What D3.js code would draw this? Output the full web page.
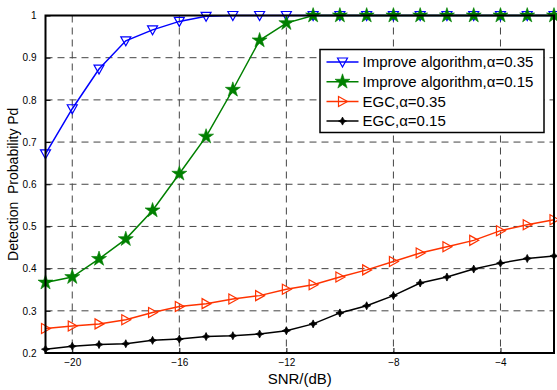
<!DOCTYPE html>
<html>
<head>
<meta charset="utf-8">
<script src="https://cdn.jsdelivr.net/npm/d3@7"></script>
<style>
  body { margin: 0; background: #fff; }
  text { font-family: "Liberation Sans", Arial, sans-serif; }
</style>
</head>
<body>
<script>
// SNR values (dB) and detection probabilities
var snr = [-21, -20, -19, -18, -17, -16, -15, -14, -13, -12,
           -11, -10, -9, -8, -7, -6, -5, -4, -3, -2];

var improve35 = [0.672, 0.779, 0.873, 0.940, 0.966, 0.986, 0.998, 1, 1, 1,
                 1, 1, 1, 1, 1, 1, 1, 1, 1, 1];
var improve15 = [0.367, 0.380, 0.423, 0.470, 0.538, 0.625, 0.713, 0.824,
                 0.941, 0.982, 1, 1, 1, 1, 1, 1, 1, 1, 1, 1];
var egc35 = [0.258, 0.264, 0.269, 0.279, 0.296, 0.310, 0.317, 0.328, 0.336,
             0.351, 0.362, 0.380, 0.397, 0.417, 0.437, 0.452, 0.467, 0.490,
             0.504, 0.516];
var egc15 = [0.209, 0.216, 0.220, 0.222, 0.230, 0.233, 0.239, 0.241, 0.245,
             0.253, 0.269, 0.295, 0.312, 0.336, 0.366, 0.380, 0.399, 0.413,
             0.424, 0.430];

var xTicks = [-20, -16, -12, -8, -4];
var yTicks = [0.2, 0.3, 0.4, 0.5, 0.6, 0.7, 0.8, 0.9, 1];

var seriesNames = ["Improve algorithm,\u03b1=0.35",
                   "Improve algorithm,\u03b1=0.15",
                   "EGC,\u03b1=0.35",
                   "EGC,\u03b1=0.15"];
var seriesColors = ["#0000ff", "#008000", "#ff3300", "#000000"];
var seriesMarkers = ["down", "star", "right", "dot"];
var seriesValues = [improve35, improve15, egc35, egc15];

//Define Margin
var margin = {left: 45.5, right: 3, top: 15.5, bottom: 37},
    width = 557 - margin.left - margin.right,
    height = 390 - margin.top - margin.bottom;

var svg = d3.select("body")
    .append("svg")
    .attr("width", 557)
    .attr("height", 390);

var g = svg.append("g")
    .attr("transform", "translate(" + margin.left + "," + margin.top + ")");

var x = d3.scaleLinear().domain([-21, -2]).range([0, width]);
var y = d3.scaleLinear().domain([0.2, 1]).range([height, 0]);

//Dashed grid
g.selectAll(".vgrid")
    .data(xTicks)
    .enter().append("line")
    .attr("x1", function(d) { return x(d); })
    .attr("x2", function(d) { return x(d); })
    .attr("y1", 0)
    .attr("y2", height)
    .attr("stroke", "#444")
    .attr("stroke-width", 1)
    .attr("stroke-dasharray", "7,5");

g.selectAll(".hgrid")
    .data(yTicks.slice(1, -1))
    .enter().append("line")
    .attr("x1", 0)
    .attr("x2", width)
    .attr("y1", function(d) { return y(d); })
    .attr("y2", function(d) { return y(d); })
    .attr("stroke", "#444")
    .attr("stroke-width", 1)
    .attr("stroke-dasharray", "7,5");

//Axes with inward ticks
var xAxis = d3.axisBottom(x).tickValues(xTicks).tickSize(-5).tickPadding(6);
var yAxis = d3.axisLeft(y).tickValues(yTicks).tickSize(-5).tickPadding(9)
    .tickFormat(function(d) { return d === 1 ? "1" : d3.format(".1f")(d); });

g.append("g")
    .attr("transform", "translate(0," + height + ")")
    .call(xAxis)
    .call(function(a) {
        a.select(".domain").remove();
        a.selectAll("text").style("font-size", "10px").attr("fill", "#000");
    });

g.append("g")
    .call(yAxis)
    .call(function(a) {
        a.select(".domain").remove();
        a.selectAll("text").style("font-size", "10px").attr("fill", "#000");
    });

//Lines and markers
var line = d3.line()
    .x(function(d, i) { return x(snr[i]); })
    .y(function(d) { return y(d); });

function drawMarker(sel, kind, color) {
    if (kind === "down") {
        sel.append("path")
            .attr("d", "M-5,-4L5,-4L0,5Z")
            .attr("fill", "none").attr("stroke", color).attr("stroke-width", 1.2);
    } else if (kind === "right") {
        sel.append("path")
            .attr("d", "M-4,-5L5,0L-4,5Z")
            .attr("fill", "none").attr("stroke", color).attr("stroke-width", 1.2);
    } else if (kind === "star") {
        sel.append("path")
            .attr("d", d3.symbol().type(d3.symbolStar).size(70)())
            .attr("fill", color).attr("stroke", color).attr("stroke-width", 0.6);
    } else {
        sel.append("path")
            .attr("d", "M0,-4L1.3,-1.3L4,0L1.3,1.3L0,4L-1.3,1.3L-4,0L-1.3,-1.3Z")
            .attr("fill", color).attr("stroke", color).attr("stroke-width", 0.8);
    }
}

seriesValues.forEach(function(vals, k) {
    g.append("path")
        .datum(vals)
        .attr("d", line)
        .attr("fill", "none")
        .attr("stroke", seriesColors[k])
        .attr("stroke-width", 1.5);
    g.selectAll(".m" + k)
        .data(vals)
        .enter().append("g")
        .attr("transform", function(d, i) {
            return "translate(" + x(snr[i]) + "," + y(d) + ")";
        })
        .each(function() {
            drawMarker(d3.select(this), seriesMarkers[k], seriesColors[k]);
        });
});

//Plot box
g.append("rect")
    .attr("width", width)
    .attr("height", height)
    .attr("fill", "none")
    .attr("stroke", "#000")
    .attr("stroke-width", 2);

//Legend
var lg = svg.append("g").attr("transform", "translate(320,49.5)");
lg.append("rect")
    .attr("width", 224)
    .attr("height", 83)
    .attr("fill", "#fff")
    .attr("stroke", "#000")
    .attr("stroke-width", 1.5);

seriesNames.forEach(function(name, k) {
    var row = lg.append("g")
        .attr("transform", "translate(0," + (12.5 + k * 19.7) + ")");
    row.append("line")
        .attr("x1", 6.5).attr("x2", 38.5)
        .attr("stroke", seriesColors[k]).attr("stroke-width", 1.5);
    var mk = row.append("g").attr("transform", "translate(22.5,0)");
    drawMarker(mk, seriesMarkers[k], seriesColors[k]);
    row.append("text")
        .attr("x", 42.5)
        .attr("dy", "0.35em")
        .style("font-size", "15px")
        .text(name);
});

//Axis titles
svg.append("text")
    .attr("x", margin.left + width / 2)
    .attr("y", 384)
    .attr("text-anchor", "middle")
    .style("font-size", "15px")
    .text("SNR/(dB)");

svg.append("text")
    .attr("transform", "translate(18," + (margin.top + height / 2) + ") rotate(-90)")
    .attr("text-anchor", "middle")
    .style("font-size", "14px")
    .style("white-space", "pre")
    .text("Detection  Probability Pd");
</script>
</body>
</html>
